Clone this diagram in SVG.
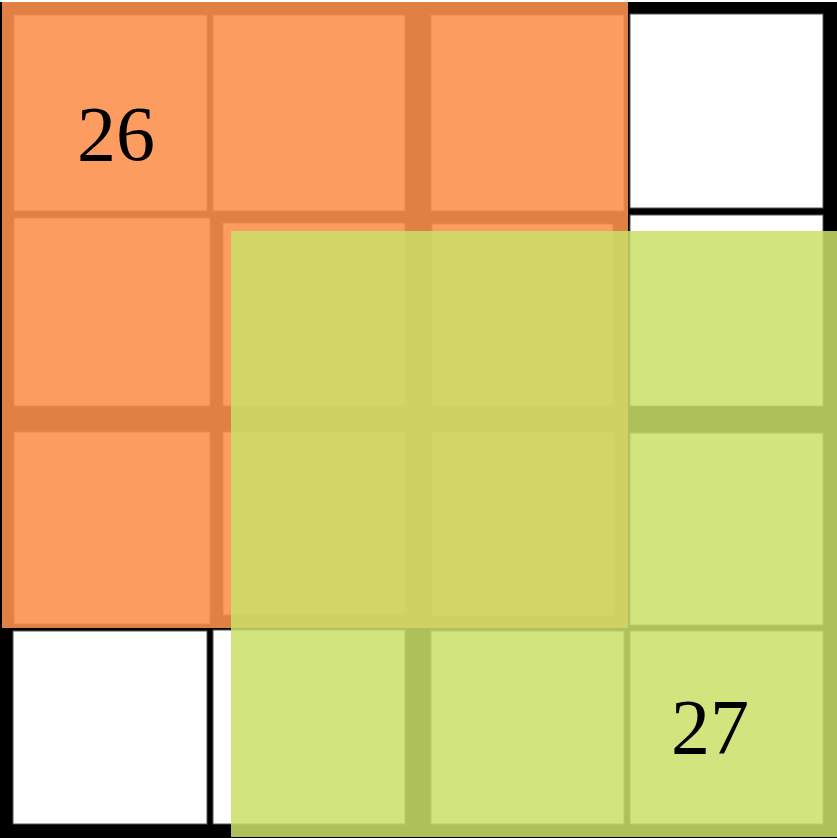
<svg xmlns="http://www.w3.org/2000/svg" width="837" height="838" viewBox="0 0 837 838">
<style>
.cell{fill:#ffffff;stroke:#555555;stroke-width:1}
.lbl{font-family:"Liberation Serif","Times New Roman",serif;font-size:78px;fill:#000000;text-anchor:middle}
</style>
<rect x="0" y="0" width="837" height="838" fill="#ffffff"/>
<g id="grid">
<rect x="0" y="2" width="837" height="836" fill="#000000"/>
<g id="row0">
<rect class="cell" x="14" y="15" width="193" height="196"/>
<rect class="cell" x="213" y="15" width="192" height="196"/>
<rect class="cell" x="431" y="15" width="193" height="196"/>
<rect class="cell" x="630" y="14" width="193" height="194"/>
</g>
<g id="row1">
<rect class="cell" x="14" y="218" width="196" height="188"/>
<rect class="cell" x="223" y="223" width="182" height="183"/>
<rect class="cell" x="432" y="224" width="181" height="182"/>
<rect class="cell" x="630" y="215" width="193" height="191"/>
</g>
<g id="row2">
<rect class="cell" x="14" y="432" width="196" height="192"/>
<rect class="cell" x="223" y="432" width="182" height="183"/>
<rect class="cell" x="432" y="432" width="182" height="184"/>
<rect class="cell" x="630" y="433" width="193" height="192"/>
</g>
<g id="row3">
<rect class="cell" x="13" y="631" width="194" height="193"/>
<rect class="cell" x="213" y="630" width="192" height="194"/>
<rect class="cell" x="431" y="631" width="193" height="193"/>
<rect class="cell" x="630" y="631" width="193" height="193"/>
</g>
</g>
<g id="region26">
<rect x="2" y="2" width="626" height="626" fill="rgb(252,144,76)" fill-opacity="0.89"/>
</g>
<g id="region27">
<rect x="231" y="231" width="606" height="606" fill="rgb(201,224,104)" fill-opacity="0.86"/>
</g>
<g id="connectors"/>
<g id="labels">
<text class="lbl" x="116" y="160">26</text>
<text class="lbl" x="710" y="753">27</text>
</g>
</svg>
